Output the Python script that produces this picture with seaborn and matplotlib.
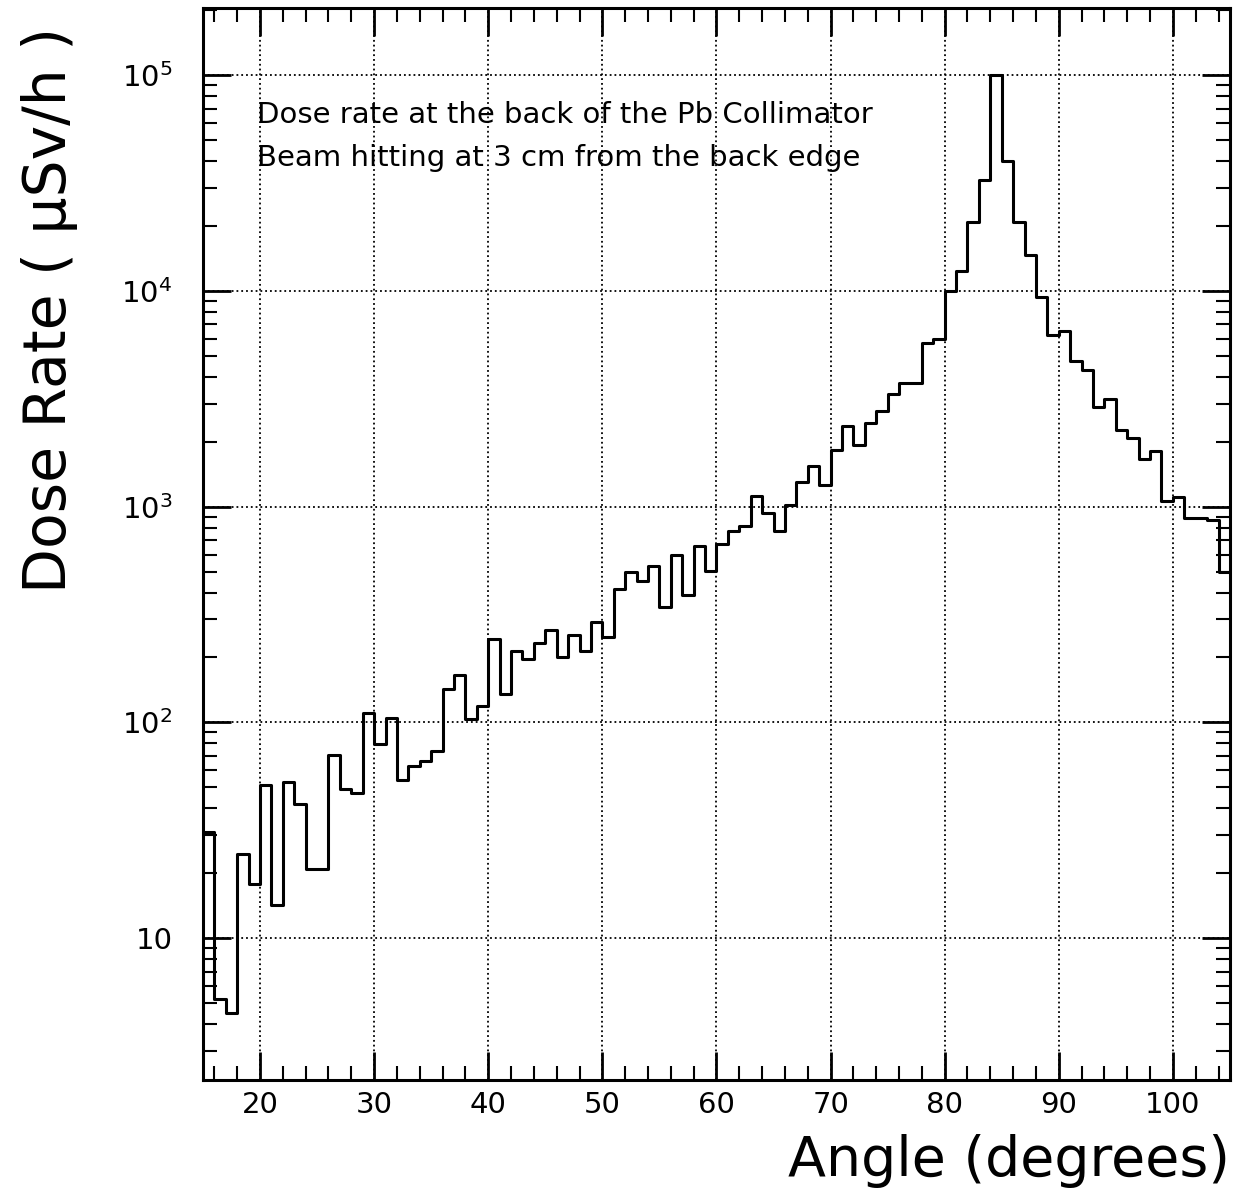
import numpy as np
import pandas as pd
import matplotlib
matplotlib.use("Agg")
import matplotlib.pyplot as plt
import seaborn as sns
from matplotlib.ticker import MultipleLocator, LogLocator, FuncFormatter, NullFormatter

# ========= DATA (1 degree bins, left edges) =========
angle_bins = list(range(15, 105))
dose_rate = [
    31, 5.2, 4.5, 24.5, 17.8, 51.5, 14.3, 52.7, 41.9, 20.9,          # 15-24
    20.9, 70.3, 49.1, 46.9, 110, 79, 105, 54, 62.6, 66,              # 25-34
    74, 143, 166, 104, 119, 243, 136, 215, 196, 234,                 # 35-44
    268, 201, 253, 215, 293, 248, 414, 500, 454, 533,                # 45-54
    344, 598, 390, 654, 505, 675, 773, 816, 1117, 933,               # 55-64
    773, 1021, 1303, 1541, 1265, 1841, 2362, 1940, 2448, 2776,       # 65-74
    3318, 3733, 3733, 5728, 5980, 10000, 12360, 20840, 32600, 100000,  # 75-84
    40000, 20840, 14740, 9400, 6250, 6520, 4745, 4280, 2910, 3158,   # 85-94
    2260, 2083, 1665, 1806, 1063, 1107, 885, 885, 870, 500,          # 95-104
]
x_ticks = [20, 30, 40, 50, 60, 70, 80, 90, 100]
note_lines = ["Dose rate at the back of the Pb Collimator",
              "Beam hitting at 3 cm from the back edge"]

df = pd.DataFrame({"angle": [a + 0.5 for a in angle_bins], "dose": dose_rate})

# ========= PLOT =========
sns.set_style("ticks")
plt.rcParams["font.family"] = ["DejaVu Sans"]
plt.rcParams["text.color"] = "black"
plt.rcParams["axes.labelcolor"] = "black"

fig = plt.figure(figsize=(12.39, 11.94), dpi=100)
ax = fig.add_axes([0.1638, 0.0955, 0.8289, 0.8978])

sns.histplot(data=df, x="angle", weights="dose", binwidth=1,
             binrange=(angle_bins[0], angle_bins[-1] + 1),
             element="step", fill=False, color="black", linewidth=2.2, ax=ax)

ax.set_yscale("log")
ax.set_xlim(15, 105)
ax.set_ylim(2.2, 2.05e5)

ax.xaxis.set_minor_locator(MultipleLocator(2))
ax.set_xticks(x_ticks)
ax.yaxis.set_major_locator(LogLocator(base=10))
ax.yaxis.set_minor_locator(LogLocator(base=10, subs=np.arange(2, 10)))
ax.yaxis.set_minor_formatter(NullFormatter())

def fmt(v, pos):
    e = int(round(np.log10(v)))
    return "10" if e == 1 else r"$10^{%d}$" % e

ax.yaxis.set_major_formatter(FuncFormatter(fmt))

ax.tick_params(which="both", direction="in", top=True, right=True, colors="black")
ax.tick_params(which="major", length=20, width=2, labelsize=21)
ax.tick_params(which="minor", length=10, width=1.5)
ax.tick_params(axis="y", which="major", pad=22)
ax.tick_params(axis="x", which="major", pad=8)

ax.grid(True, which="major", linestyle=":", color="black", linewidth=1.3)
for s in ax.spines.values():
    s.set_linewidth(2.2)
    s.set_color("black")

ax.set_ylabel("Dose Rate ( \u03bcSv/h )", fontsize=42)
ax.yaxis.set_label_coords(-0.122, 0.718)
ax.set_xlabel("Angle (degrees)", fontsize=40, loc="right")
ax.xaxis.set_label_coords(1.0, -0.050)

ax.text(0.053, 0.900, note_lines[0], transform=ax.transAxes, fontsize=21, va="center")
ax.text(0.053, 0.860, note_lines[1], transform=ax.transAxes, fontsize=21, va="center")

plt.savefig("out.png", dpi=100)
